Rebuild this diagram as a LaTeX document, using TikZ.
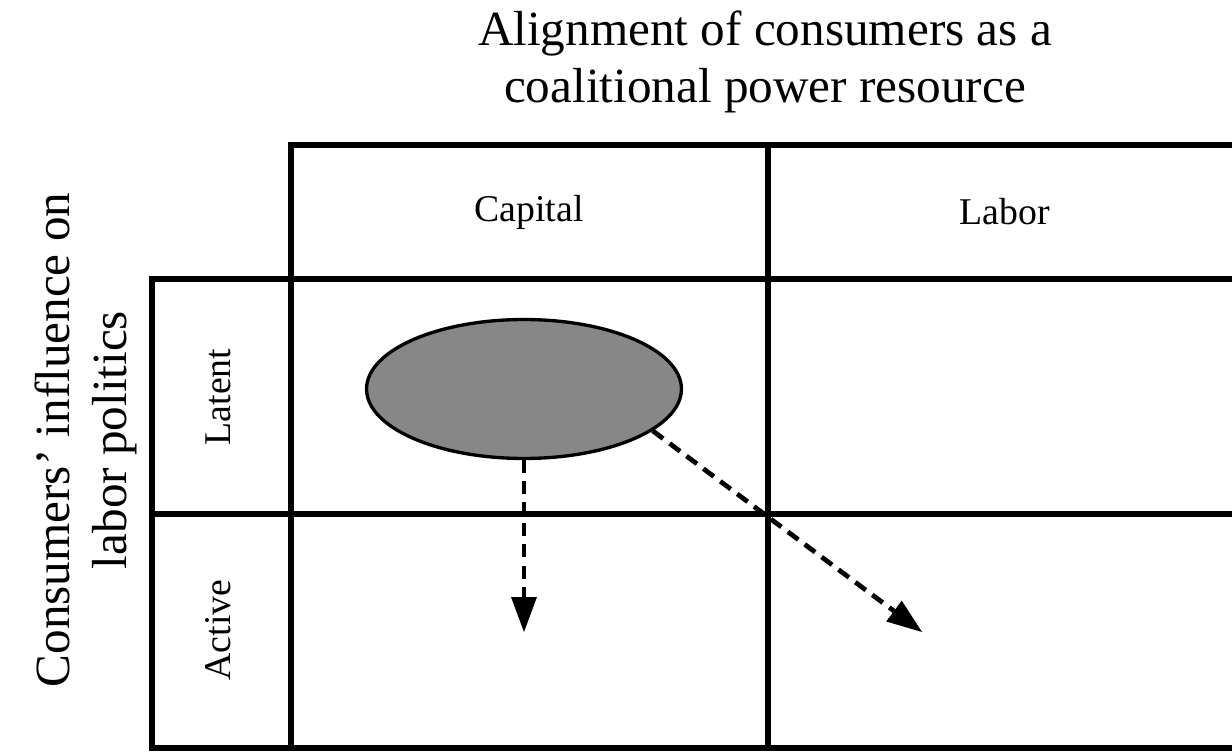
\documentclass[tikz,border=0pt]{standalone}
\usepackage{fontspec}
\setmainfont{Liberation Serif}
\usetikzlibrary{positioning,shapes.geometric,arrows.meta}

\tikzset{
	grid/.style={line width=3pt, line join=miter},
	heading/.style={font=\fontsize{28}{32.5}\selectfont, align=center, inner sep=0pt},
	cell/.style={font=\fontsize{21.5}{25}\selectfont, inner sep=0pt},
	move/.style={draw, line width=2.7pt, dash pattern=on 7.4pt off 4.6pt,
		-{Triangle[length=0.7cm, width=0.52cm, line width=0pt]}},
}

\begin{document}
\begin{tikzpicture}[x=0.02cm, y=-0.02cm]
				\useasboundingbox (0,0) rectangle (1232,753);
				% the table
				\draw[grid] (1232,145) -- (291,145) -- (291,748);
				\draw[grid] (1232,279) -- (152,279) -- (152,748) -- (1232,748);
				\draw[grid] (152,514) -- (1232,514);
				\draw[grid] (768,145) -- (768,748);
				% axis titles
				\node[heading] (top) at (765,62) {Alignment of consumers as a\\coalitional power resource};
				\node[heading, rotate=90] (side) at (86,440) {Consumers’ influence on\\labor politics};
				% column and row heads
				\node[cell] (capital) at (529,212) {Capital};
				\node[cell] (labor) at (1005,212) {Labor};
				\node[cell, rotate=90] (latent) at (218,397) {Latent};
				\node[cell, rotate=90] (active) at (218,630) {Active};
				% the position and where it can move
				\node[ellipse, draw, line width=1.9pt, fill=black!47, minimum width=6.3cm, minimum height=2.78cm, inner sep=0pt] (pos) at (524,389) {};
				\coordinate (down) at (524,632);
				\coordinate (across) at (922,632);
				\draw[move] (pos.south) -- (down);
				\draw[move] (pos.-18) -- (across);
\end{tikzpicture}
\end{document}
